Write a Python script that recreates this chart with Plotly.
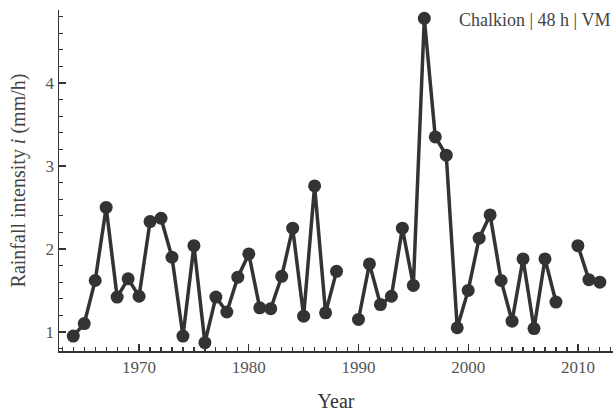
import plotly.graph_objects as go

years = list(range(1964, 2013))
intensity = [0.95, 1.10, 1.62, 2.50, 1.42, 1.64, 1.43, 2.33, 2.37, 1.90,
             0.95, 2.04, 0.87, 1.42, 1.24, 1.66, 1.94, 1.29, 1.28, 1.67,
             2.25, 1.19, 2.76, 1.23, 1.73, None, 1.15, 1.82, 1.33, 1.43,
             2.25, 1.56, 4.78, 3.35, 3.13, 1.05, 1.50, 2.13, 2.41, 1.62,
             1.13, 1.88, 1.04, 1.88, 1.36, None, 2.04, 1.63, 1.60]
x_ticks = [1970, 1980, 1990, 2000, 2010]
y_ticks = [1, 2, 3, 4]
label = "Chalkion | 48 h | VM"

font_family = "Liberation Serif"
fig = go.Figure()
fig.add_trace(go.Scatter(
    x=years, y=intensity, mode="lines+markers",
    connectgaps=False,
    line=dict(color="#333333", width=3.5),
    marker=dict(color="#333333", size=13),
    showlegend=False,
    cliponaxis=False,
    hoverinfo="skip",
))

axis_common = dict(
    showgrid=False, zeroline=False, showline=True, linecolor="#333333",
    linewidth=1.5, ticks="inside", ticklen=7, tickwidth=1.2, tickcolor="#333333",
    tickfont=dict(family=font_family, size=17, color="#555555"),
    mirror=False,
)
fig.update_xaxes(
    range=[1962.7, 2013.2], tickvals=x_ticks,
    minor=dict(ticks="inside", dtick=1, tick0=1964, ticklen=4, tickcolor="#333333", tickwidth=1.2),
    title=dict(text="Year", font=dict(family=font_family, size=20, color="#333333"), standoff=18),
    **axis_common,
)
fig.update_yaxes(
    range=[0.77, 4.88], tickvals=y_ticks,
    minor=dict(ticks="inside", dtick=0.2, tick0=0, ticklen=4, tickcolor="#333333", tickwidth=1.2),
    title=dict(text="Rainfall intensity <i>i</i> (mm/h)", font=dict(family=font_family, size=20, color="#444444"), standoff=14),
    **axis_common,
)
fig.add_annotation(
    text=label, xref="paper", yref="paper", x=1.0, y=0.97,
    xanchor="right", yanchor="middle", showarrow=False, xshift=-1,
    font=dict(family=font_family, size=18, color="#444444"),
)
fig.update_layout(
    width=616, height=414,
    margin=dict(l=59, r=3, t=10, b=63),
    plot_bgcolor="white", paper_bgcolor="white",
    hovermode=False,
)
fig.write_html(
    "out.html",
    config={"displayModeBar": False, "staticPlot": True},
    post_script="document.body.style.margin='0';document.body.style.overflow='hidden';",
)
